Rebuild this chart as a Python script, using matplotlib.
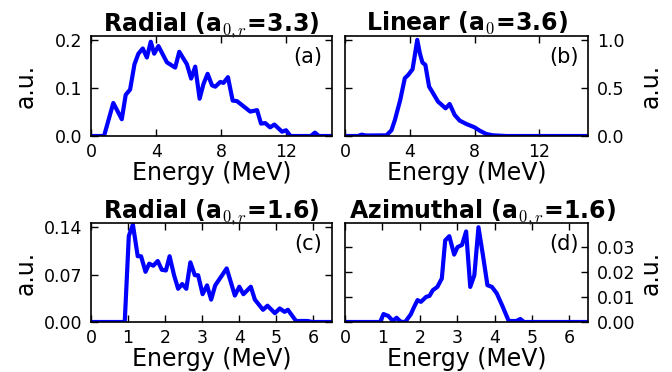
import matplotlib
matplotlib.use("Agg")
import matplotlib.pyplot as plt

plt.rcParams['mathtext.fontset'] = 'cm'
plt.rcParams['font.family'] = ['DejaVu Sans']

# Panel (a) Radial a0,r=3.3
ea = [0, 0.8, 1.37, 1.89, 2.13, 2.4, 2.67, 2.91, 3.18, 3.43, 3.67, 3.88, 4.14, 4.66, 5.17, 5.42,
      5.89, 6.15, 6.4, 6.67, 6.91, 7.16, 7.43, 7.63, 7.94, 8.14, 8.41, 8.70, 8.96, 9.37, 9.78,
      10.2, 10.44, 10.7, 11.0, 11.26, 11.73, 11.98, 12.25, 13.5, 13.75, 14.0, 15.0]
ya = [0, 0, 0.069, 0.035, 0.086, 0.097, 0.150, 0.172, 0.183, 0.164, 0.197, 0.172, 0.188, 0.154,
      0.143, 0.176, 0.150, 0.120, 0.145, 0.078, 0.109, 0.130, 0.106, 0.103, 0.113, 0.111, 0.123,
      0.074, 0.073, 0.062, 0.051, 0.054, 0.026, 0.027, 0.018, 0.024, 0.009, 0.012, 0.0, 0.0,
      0.007, 0.0, 0.0]

# Panel (b) Linear a0=3.6
eb = [0, 0.8, 1.03, 1.3, 2.56, 2.87, 3.08, 3.41, 3.69, 3.9, 4.17, 4.31, 4.46, 4.62, 4.78, 4.96,
      5.19, 5.44, 5.74, 6.21, 6.46, 6.77, 7.08, 7.49, 8.0, 8.31, 8.72, 9.13, 9.95, 15.0]
yb = [0, 0, 0.014, 0.005, 0.007, 0.06, 0.167, 0.375, 0.60, 0.635, 0.694, 0.84, 1.0, 0.86, 0.764,
      0.74, 0.514, 0.444, 0.358, 0.288, 0.333, 0.219, 0.16, 0.125, 0.09, 0.056, 0.021, 0.007,
      0.0, 0.0]

# Panel (c) Radial a0,r=1.6
ec = [0, 0.91, 1.02, 1.13, 1.26, 1.35, 1.47, 1.57, 1.68, 1.8, 1.91, 2.02, 2.12, 2.24, 2.35, 2.46,
      2.57, 2.68, 2.8, 2.89, 3.01, 3.13, 3.24, 3.35, 3.66, 3.88, 4.0, 4.11, 4.31, 4.42, 4.64,
      4.76, 4.96, 5.09, 5.22, 5.31, 5.53, 5.84, 5.97, 6.5]
yc = [0, 0, 0.127, 0.1436, 0.097, 0.097, 0.074, 0.086, 0.083, 0.090, 0.077, 0.076, 0.097, 0.069,
      0.049, 0.056, 0.049, 0.088, 0.069, 0.069, 0.041, 0.054, 0.033, 0.054, 0.079, 0.039, 0.052,
      0.041, 0.052, 0.033, 0.018, 0.024, 0.013, 0.020, 0.015, 0.018, 0.0015, 0.0015, 0.0, 0.0]

# Panel (d) Azimuthal a0,r=1.6
ed = [0, 0.94, 1.03, 1.16, 1.28, 1.38, 1.49, 1.61, 1.76, 1.85, 1.94, 2.03, 2.17, 2.26, 2.35,
      2.47, 2.59, 2.68, 2.79, 2.92, 3.01, 3.13, 3.24, 3.35, 3.46, 3.57, 3.69, 3.81, 3.93, 4.06,
      4.22, 4.38, 4.58, 4.69, 4.79, 6.5]
yd = [0, 0, 0.0032, 0.0024, 0.0004, 0.0017, 0.0001, 0.0, 0.0031, 0.0061, 0.0088, 0.0081, 0.0101,
      0.0105, 0.0128, 0.0141, 0.0175, 0.0328, 0.0345, 0.0271, 0.0301, 0.031, 0.0364, 0.0141,
      0.0188, 0.0381, 0.0268, 0.0148, 0.0141, 0.0115, 0.0061, 0.0004, 0.0004, 0.0012, 0.0, 0.0]

titles = [r'Radial (a$_{0,r}$=3.3)', r'Linear (a$_{0}$=3.6)',
          r'Radial (a$_{0,r}$=1.6)', r'Azimuthal (a$_{0,r}$=1.6)']
title_x = [0.5, 0.5, 0.5, 0.565]
panel_labels = ['(a)', '(b)', '(c)', '(d)']
xticks_top = [0, 4, 8, 12]
xticks_bot = [0, 1, 2, 3, 4, 5, 6]
yticks_a = [0.0, 0.1, 0.2]
yticks_b = [0.0, 0.5, 1.0]
yticks_c = [0.00, 0.07, 0.14]
yticks_d = [0.00, 0.01, 0.02, 0.03]

fig = plt.figure(figsize=(6.72, 3.72), dpi=100)
L1, R1 = 91/672, 332/672
L2, R2 = 345/672, 588/672
Tb, Bb = 1-36/372, 1-136/372
Tc, Bc = 1-223/372, 1-322/372

specs = [
    (L1, Bb, R1-L1, Tb-Bb, ea, ya, (0, 14.8), (0, 0.209), xticks_top, yticks_a, '%.1f', 'left'),
    (L2, Bb, R2-L2, Tb-Bb, eb, yb, (0, 15.0), (0, 1.04), xticks_top, yticks_b, '%.1f', 'right'),
    (L1, Bc, R1-L1, Tc-Bc, ec, yc, (0, 6.5), (0, 0.146), xticks_bot, yticks_c, '%.2f', 'left'),
    (L2, Bc, R2-L2, Tc-Bc, ed, yd, (0, 6.5), (0, 0.0398), xticks_bot, yticks_d, '%.2f', 'right'),
]

for i, (l, b, w, h, x, y, xl, yl, xt, yt, fmt, side) in enumerate(specs):
    ax = fig.add_axes([l, b, w, h])
    ax.plot(x, y, color='#0000ff', lw=3)
    ax.set_xlim(*xl)
    ax.set_ylim(*yl)
    ax.set_xticks(xt)
    ax.set_yticks(yt)
    ax.set_yticklabels([fmt % v for v in yt])
    ax.tick_params(direction='in', top=True, right=True, left=True, bottom=True,
                   labelsize=12.5, length=5, width=1)
    ax.tick_params(axis='x', pad=5)
    ax.tick_params(axis='y', pad=6.5)
    if side == 'right':
        ax.tick_params(axis='y', labelleft=False, labelright=True)
    for s in ax.spines.values():
        s.set_linewidth(1.2)
    ax.set_xlabel('Energy (MeV)', fontsize=17, labelpad=0)
    ax.set_ylabel('a.u.', fontsize=17)
    if side == 'right':
        ax.yaxis.set_label_coords((651 - l*672) / (w*672), 0.5)
    else:
        ax.yaxis.set_label_coords((26 - l*672) / (w*672), 0.5)
    ax.yaxis.label.set_va('center')
    ax.yaxis.label.set_ha('center')
    ax.set_title(titles[i], fontsize=17, fontweight='bold', pad=4, x=title_x[i])
    ax.text(0.96, 0.79, panel_labels[i], transform=ax.transAxes, ha='right', va='center',
            fontsize=15)

fig.savefig('out.png', dpi=100)
